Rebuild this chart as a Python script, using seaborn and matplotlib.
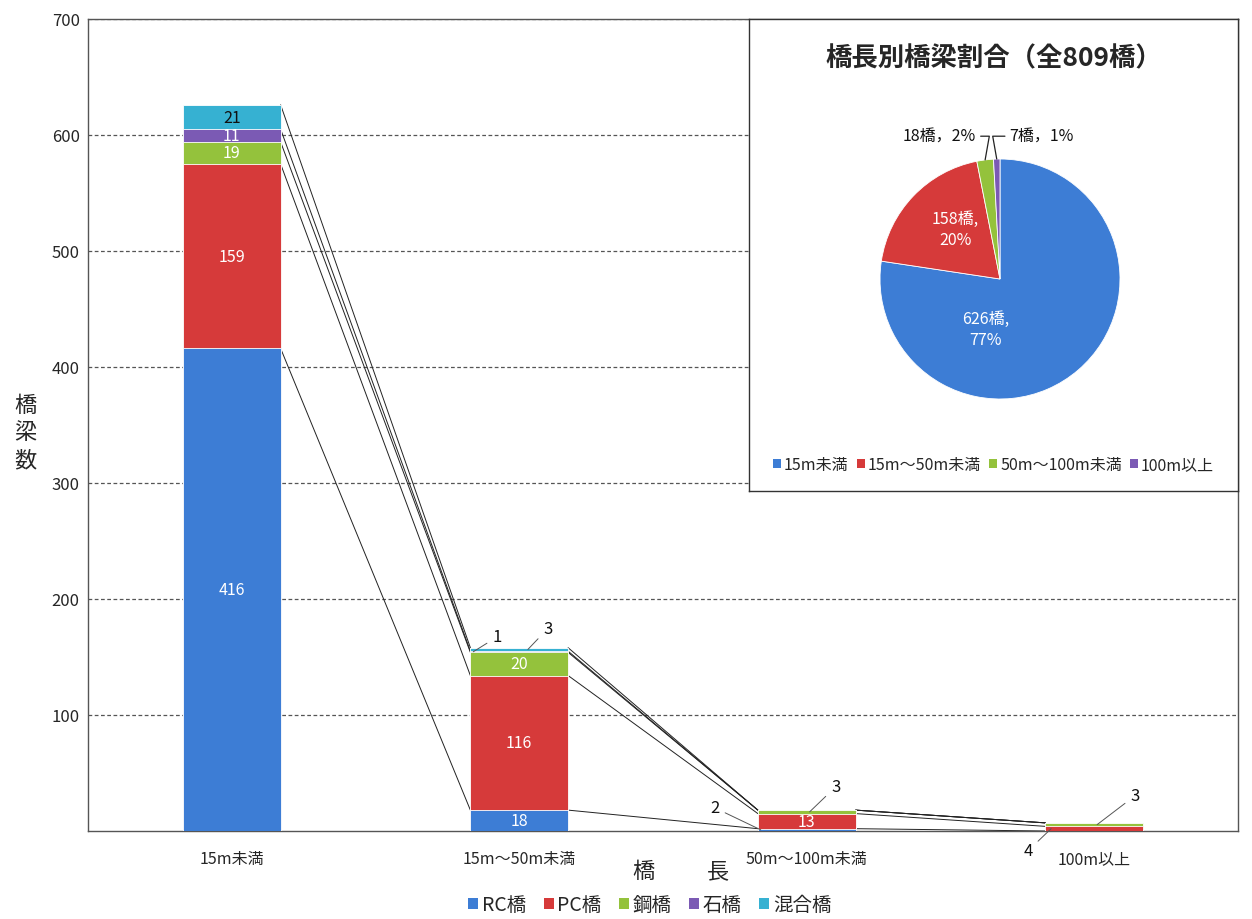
import numpy as np
import pandas as pd
import seaborn as sns
import matplotlib.pyplot as plt
from matplotlib.patches import Patch

# Bridge counts by length class and structure type
categories = ["15m未満", "15m～50m未満", "50m～100m未満", "100m以上"]
types = ["RC橋", "PC橋", "鋼橋", "石橋", "混合橋"]
rc = [416, 18, 2, 0]
pc = [159, 116, 13, 4]
steel = [19, 20, 3, 3]
stone = [11, 1, 0, 0]
mixed = [21, 3, 0, 0]

# Share of bridges by length class (809 in total)
pie_labels = ["15m未満", "15m～50m未満", "50m～100m未満", "100m以上"]
pie_counts = [626, 158, 18, 7]
pie_pcts = [77, 20, 2, 1]
pie_total = 809

yticks = [100, 200, 300, 400, 500, 600, 700]

colors = ["#3d7dd5", "#d63a3a", "#94c23c", "#7b5ab4", "#36b1d2"]

sns.set_theme(style="white")
plt.rcParams["font.family"] = ["Noto Sans CJK JP", "DejaVu Sans"]

W, H = 1252, 920
fig = plt.figure(figsize=(W / 100, H / 100), dpi=100)
fig.patch.set_facecolor("white")


def fx(px):
    return px / W


def fy(py):
    return 1 - py / H


ax = fig.add_axes([fx(88), fy(832), fx(1150), (832 - 20) / H])

series = [rc, pc, steel, stone, mixed]
cum = np.cumsum(np.array(series), axis=0)
bar_w = 0.34

# stacked bars: draw cumulative heights from the top series down
df = pd.DataFrame({"category": categories})
for k in reversed(range(len(series))):
    df["height"] = cum[k]
    sns.barplot(data=df, x="category", y="height", color=colors[k], width=bar_w,
                saturation=1, ax=ax, edgecolor="white", linewidth=0.6, zorder=3)

# series lines between neighbouring bars
for i in range(len(categories) - 1):
    for k in range(len(series)):
        ax.plot([i + bar_w / 2, i + 1 - bar_w / 2], [cum[k][i], cum[k][i + 1]],
                color="#222222", lw=0.7, zorder=2)

# small segments get their value outside, with a leader line
# (series index, category index): (anchor x shift, label offset in pixels)
outside = {(3, 1): (-0.16, 24, 15), (4, 1): (0.03, 20, 21),
           (0, 2): (-0.16, -46, 22), (2, 2): (0.01, 26, 25),
           (1, 3): (-0.15, -23, -22), (2, 3): (0.01, 38, 29)}
for k in range(len(series)):
    for i in range(len(categories)):
        v = series[k][i]
        if v <= 0:
            continue
        mid = cum[k][i] - v / 2
        if (k, i) in outside:
            sx, dx, dy = outside[(k, i)]
            ax.annotate(str(v), xy=(i + sx, mid), xytext=(dx, dy),
                        textcoords="offset pixels",
                        ha="center", va="center", fontsize=12, color="#111111",
                        arrowprops=dict(arrowstyle="-", color="#555555", lw=0.7,
                                        shrinkA=2, shrinkB=0), zorder=6)
        else:
            col = "#111111" if (k == 4 and i == 0) else "white"
            ax.text(i, mid, str(v), ha="center", va="center", fontsize=11.5,
                    color=col, zorder=5)

ax.set_xlim(-0.5, 3.5)
ax.set_ylim(0, 700)
ax.set_yticks(yticks)
ax.set_yticklabels([str(t) for t in yticks], fontsize=12)
ax.yaxis.grid(True, linestyle=(0, (3, 2)), color="#555555", lw=0.9, zorder=0)
ax.set_axisbelow(True)
ax.tick_params(axis="x", length=0, pad=14, labelsize=11.5)
ax.tick_params(axis="y", length=0, pad=6)
ax.set_xlabel("")
ax.set_ylabel("")
for s in ax.spines.values():
    s.set_color("#555555")
    s.set_linewidth(1.0)

fig.text(fx(643), fy(872), "橋", fontsize=16, ha="center", va="center")
fig.text(fx(718), fy(872), "長", fontsize=16, ha="center", va="center")
fig.text(fx(25), fy(433), "橋\n梁\n数", fontsize=16, ha="center", va="center",
         linespacing=1.25)

handles = [Patch(facecolor=c, edgecolor="none") for c in colors]
fig.legend(handles, types, loc="center", bbox_to_anchor=(fx(650), fy(906)),
           ncol=5, frameon=False, fontsize=14, handlelength=0.5, handleheight=0.5,
           handletextpad=0.2, columnspacing=0.9)

# inset: share by length class
box = fig.add_axes([fx(749), fy(492), fx(489), (492 - 20) / H], zorder=10)
box.set_xticks([])
box.set_yticks([])
box.set_facecolor("white")
for s in box.spines.values():
    s.set_color("#333333")
    s.set_linewidth(1.0)
box.text(0.5, 1 - (59 - 20) / 472, "橋長別橋梁割合（全809橋）",
         transform=box.transAxes, ha="center", va="center", fontsize=19,
         fontweight="bold")

pax = fig.add_axes([fx(1000 - 150), fy(280 + 150), fx(300), 300 / H], zorder=11)
pax.pie(pie_counts, colors=colors[:4], startangle=90, counterclock=False,
        wedgeprops=dict(edgecolor="white", linewidth=0.6))
pax.set_xlim(-1.25, 1.25)
pax.set_ylim(-1.25, 1.25)
pax.set_aspect("equal")
pax.axis("off")

pax.text(-0.12, -0.42, f"{pie_counts[0]}橋,\n{pie_pcts[0]}%", ha="center",
         va="center", color="white", fontsize=11.5, linespacing=1.3)
pax.text(-0.37, 0.42, f"{pie_counts[1]}橋,\n{pie_pcts[1]}%", ha="center",
         va="center", color="white", fontsize=11.5, linespacing=1.3)

fr = np.cumsum([0] + pie_counts) / pie_total
for j, tx, ty, ha, conn in [(2, -0.2, 1.19, "right", "angle,angleA=0,angleB=80"),
                            (3, 0.08, 1.19, "left", "angle,angleA=0,angleB=100")]:
    mid = (fr[j] + fr[j + 1]) / 2
    ang = np.deg2rad(90 - mid * 360)
    pax.annotate(f"{pie_counts[j]}橋，{pie_pcts[j]}%",
                 xy=(np.cos(ang), np.sin(ang)), xytext=(tx, ty),
                 ha=ha, va="center", fontsize=11.5, color="#111111",
                 arrowprops=dict(arrowstyle="-", color="#222222", lw=0.9,
                                 shrinkA=1, shrinkB=0, connectionstyle=conn))

box.legend([Patch(facecolor=c, edgecolor="none") for c in colors[:4]], pie_labels,
           loc="center", bbox_to_anchor=(0.5, 26 / 472), ncol=4, frameon=False,
           fontsize=11.5, handlelength=0.5, handleheight=0.5, handletextpad=0.2,
           columnspacing=0.5)

fig.savefig("out.png", dpi=100, facecolor="white")
